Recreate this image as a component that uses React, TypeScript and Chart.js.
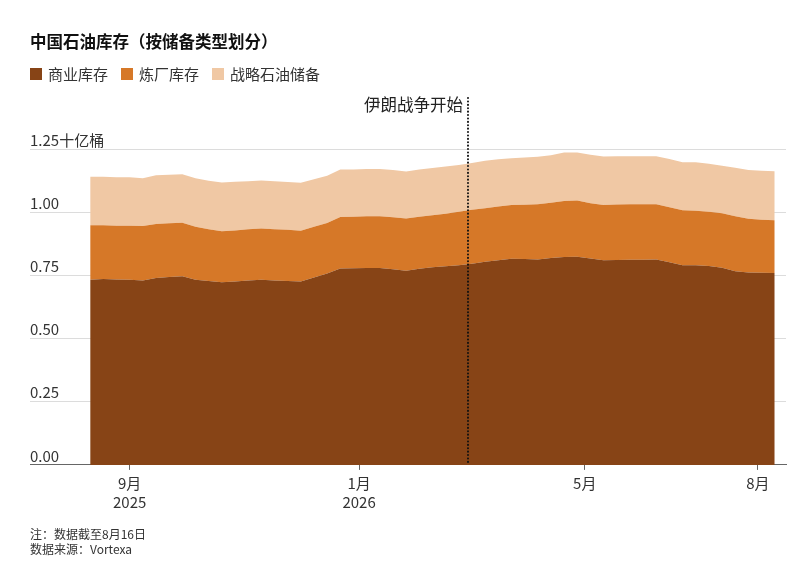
import React, { useEffect, useRef } from "react";
import { Chart, registerables } from "chart.js";

Chart.register(...registerables);

// ---- data ----
const weeks: string[] = [
  "2025-08-11", "2025-08-18", "2025-08-25", "2025-09-01", "2025-09-08", "2025-09-15", "2025-09-22", "2025-09-29",
  "2025-10-06", "2025-10-13", "2025-10-20", "2025-10-27", "2025-11-03", "2025-11-10", "2025-11-17", "2025-11-24",
  "2025-12-01", "2025-12-08", "2025-12-15", "2025-12-22", "2025-12-29", "2026-01-05", "2026-01-12", "2026-01-19",
  "2026-01-26", "2026-02-02", "2026-02-09", "2026-02-16", "2026-02-23", "2026-03-02", "2026-03-09", "2026-03-16",
  "2026-03-23", "2026-03-30", "2026-04-06", "2026-04-13", "2026-04-20", "2026-04-27", "2026-05-04", "2026-05-11",
  "2026-05-18", "2026-05-25", "2026-06-01", "2026-06-08", "2026-06-15", "2026-06-22", "2026-06-29", "2026-07-06",
  "2026-07-13", "2026-07-20", "2026-07-27", "2026-08-03", "2026-08-10",
];

// billions of barrels
const commercial: number[] = [
  0.733, 0.736, 0.734, 0.733, 0.730, 0.740, 0.744, 0.746,
  0.733, 0.728, 0.723, 0.726, 0.730, 0.733, 0.730, 0.728,
  0.726, 0.742, 0.757, 0.777, 0.778, 0.779, 0.779, 0.774,
  0.768, 0.776, 0.782, 0.786, 0.790, 0.796, 0.804, 0.810,
  0.816, 0.815, 0.813, 0.819, 0.823, 0.824, 0.817, 0.810,
  0.811, 0.812, 0.812, 0.813, 0.802, 0.790, 0.790, 0.787,
  0.780, 0.766, 0.761, 0.760, 0.759,
];

const refinery: number[] = [
  0.215, 0.212, 0.212, 0.213, 0.215, 0.213, 0.212, 0.212,
  0.209, 0.204, 0.202, 0.202, 0.202, 0.202, 0.202, 0.202,
  0.201, 0.200, 0.200, 0.204, 0.204, 0.205, 0.205, 0.206,
  0.207, 0.206, 0.206, 0.208, 0.212, 0.214, 0.212, 0.212,
  0.212, 0.214, 0.218, 0.218, 0.221, 0.222, 0.218, 0.218,
  0.219, 0.219, 0.219, 0.218, 0.218, 0.218, 0.216, 0.215,
  0.216, 0.218, 0.213, 0.210, 0.209,
];

const strategic: number[] = [
  0.192, 0.192, 0.192, 0.192, 0.189, 0.193, 0.192, 0.192,
  0.192, 0.192, 0.192, 0.192, 0.190, 0.190, 0.190, 0.189,
  0.189, 0.188, 0.187, 0.188, 0.187, 0.187, 0.187, 0.187,
  0.186, 0.187, 0.187, 0.187, 0.185, 0.185, 0.188, 0.187,
  0.185, 0.187, 0.188, 0.188, 0.192, 0.190, 0.192, 0.192,
  0.191, 0.190, 0.190, 0.190, 0.190, 0.190, 0.192, 0.190,
  0.188, 0.192, 0.193, 0.194, 0.194,
];

const seriesNames: string[] = ["商业库存", "炼厂库存", "战略石油储备"];
const seriesColors: string[] = ["#874416", "#D67828", "#F0C8A4"];

const xTickDates: string[] = ["2025-09-01", "2026-01-01", "2026-05-01", "2026-08-01"];
const xTickLabels: (string | string[])[] = [["9月", "2025"], ["1月", "2026"], "5月", "8月"];
const yTicks: number[] = [0, 0.25, 0.5, 0.75, 1.0, 1.25];
const yUnit = "十亿桶";

const xRange: string[] = ["2025-07-10", "2026-08-16"];
const eventDate = "2026-02-28";
const eventLabel = "伊朗战争开始";

const title = "中国石油库存（按储备类型划分）";
const noteLines: string[] = ["注：数据截至8月16日", "数据来源：Vortexa"];

const FONT = '"Noto Sans CJK SC", "Noto Sans", sans-serif';

const dayOf = (s: string) => Date.parse(s + "T00:00:00Z") / 86400000;

export default function App() {
  const canvasRef = useRef<HTMLCanvasElement | null>(null);

  useEffect(() => {
    const canvas = canvasRef.current;
    if (!canvas) return;

    const series = [commercial, refinery, strategic];
    const datasets = series.map((vals, k) => ({
      label: seriesNames[k],
      data: weeks.map((w, i) => ({ x: dayOf(w), y: vals[i] })),
      backgroundColor: seriesColors[k],
      borderColor: seriesColors[k],
      borderWidth: 0,
      pointRadius: 0,
      tension: 0,
      fill: k === 0 ? "origin" : "-1",
    }));

    const eventPlugin = {
      id: "eventLine",
      afterDatasetsDraw(chart: any) {
        const { ctx, chartArea, scales } = chart;
        const x = Math.round(scales.x.getPixelForValue(dayOf(eventDate)));
        ctx.save();
        ctx.strokeStyle = "#111";
        ctx.lineWidth = 2;
        ctx.lineCap = "round";
        ctx.setLineDash([0.1, 3.3]);
        ctx.beginPath();
        ctx.moveTo(x, 98);
        ctx.lineTo(x, chartArea.bottom);
        ctx.stroke();
        ctx.setLineDash([]);
        ctx.fillStyle = "#222";
        ctx.font = `16.5px ${FONT}`;
        ctx.textAlign = "right";
        ctx.textBaseline = "middle";
        ctx.fillText(eventLabel, x - 5, 105);
        ctx.restore();
      },
    };

    const chart = new Chart(canvas, {
      type: "line",
      data: { datasets: datasets as any },
      options: {
        animation: false,
        responsive: false,
        devicePixelRatio: 1,
        layout: { padding: { left: 30, right: 14, top: 149, bottom: 50 } },
        plugins: { legend: { display: false }, tooltip: { enabled: false }, title: { display: false } },
        elements: { line: { borderWidth: 0 } },
        scales: {
          x: {
            type: "linear",
            min: dayOf(xRange[0]),
            max: dayOf(xRange[1]),
            z: 1,
            afterBuildTicks: (s: any) => {
              s.ticks = xTickDates.map((d) => ({ value: dayOf(d) }));
            },
            ticks: {
              autoSkip: false,
              maxRotation: 0,
              padding: 4,
              color: "#333",
              font: { family: FONT, size: 15, lineHeight: 1.27 },
              callback: (_v: any, i: number) => xTickLabels[i],
            },
            grid: { drawOnChartArea: false, drawTicks: true, tickLength: 5, color: "#666" },
            border: { display: true, color: "#666", width: 1 },
          },
          y: {
            stacked: true,
            min: 0,
            max: 1.25,
            afterBuildTicks: (s: any) => {
              s.ticks = yTicks.map((v) => ({ value: v }));
            },
            ticks: {
              mirror: true,
              padding: 0,
              labelOffset: -9,
              color: "#333",
              font: { family: FONT, size: 15 },
              callback: (v: any) => (Number(v) === 1.25 ? Number(v).toFixed(2) + yUnit : Number(v).toFixed(2)),
            },
            grid: { color: "#dcdcdc", lineWidth: 1, drawTicks: false },
            border: { display: false },
          },
        },
      },
      plugins: [eventPlugin],
    });

    return () => chart.destroy();
  }, []);

  const text: React.CSSProperties = { position: "absolute", fontFamily: FONT, color: "#222", whiteSpace: "nowrap" };

  return (
    <div style={{ position: "absolute", left: 0, top: 0, width: 800, height: 566, background: "#fff", overflow: "hidden" }}>
      <canvas ref={canvasRef} width={800} height={566} style={{ position: "absolute", left: 0, top: 0, width: 800, height: 566 }} />
      <div style={{ ...text, left: 30, top: 31, fontSize: 16.5, fontWeight: 700, lineHeight: "20px", color: "#111" }}>{title}</div>
      <div style={{ position: "absolute", left: 30, top: 64, height: 20, display: "flex", alignItems: "center" }}>
        {seriesNames.map((n, k) => (
          <div key={n} style={{ display: "flex", alignItems: "center", marginRight: 13 }}>
            <span style={{ display: "inline-block", width: 12, height: 12, background: seriesColors[k], marginRight: 6 }} />
            <span style={{ fontFamily: FONT, fontSize: 15, lineHeight: "20px", color: "#333" }}>{n}</span>
          </div>
        ))}
      </div>
      {noteLines.map((l, i) => (
        <div key={i} style={{ ...text, left: 30, top: 526 + i * 15, fontSize: 12, lineHeight: "16px", color: "#333" }}>{l}</div>
      ))}
    </div>
  );
}
